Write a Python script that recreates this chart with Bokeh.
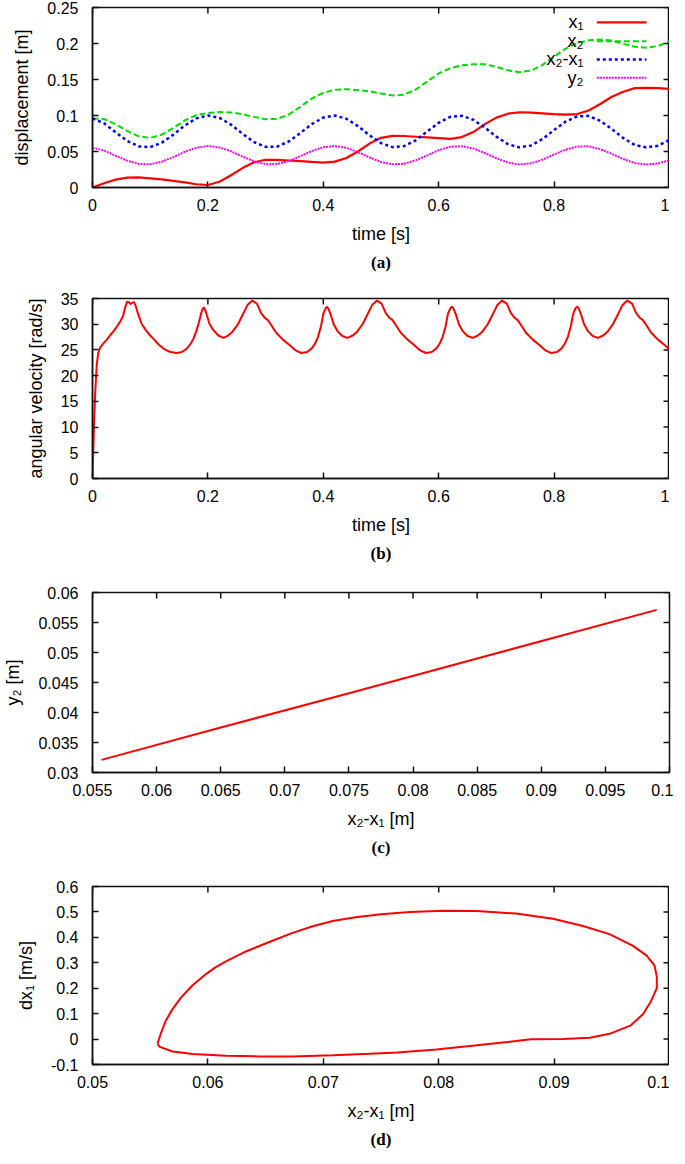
import math
from bokeh.plotting import figure
from bokeh.layouts import column
from bokeh.models import Range1d, FixedTicker, Title, Label
from bokeh.embed import file_html
from bokeh.resources import INLINE

# ---------------- data: panel (a) ----------------
t_a = [0.00, 0.02, 0.04, 0.06, 0.08, 0.10, 0.12, 0.14, 0.16, 0.18,
       0.20, 0.22, 0.24, 0.26, 0.28, 0.30, 0.32, 0.34, 0.36, 0.38,
       0.40, 0.42, 0.44, 0.46, 0.48, 0.50, 0.52, 0.54, 0.56, 0.58,
       0.60, 0.62, 0.64, 0.66, 0.68, 0.70, 0.72, 0.74, 0.76, 0.78,
       0.80, 0.82, 0.84, 0.86, 0.88, 0.90, 0.92, 0.94, 0.96, 0.98, 1.00]
x1 = [0.0, 0.006, 0.011, 0.0138, 0.0140, 0.0128, 0.0112, 0.0093, 0.0072, 0.0045,
      0.0035, 0.008, 0.017, 0.027, 0.035, 0.0385, 0.0385, 0.0375, 0.0365, 0.0355,
      0.0345, 0.036, 0.041, 0.050, 0.061, 0.069, 0.0718, 0.0715, 0.0705, 0.0695,
      0.0685, 0.0675, 0.070, 0.077, 0.088, 0.097, 0.1025, 0.1045, 0.1040, 0.1030,
      0.1020, 0.1013, 0.1020, 0.107, 0.116, 0.126, 0.133, 0.138, 0.1385, 0.138, 0.137]
x2 = [0.096, 0.0951, 0.0878, 0.0786, 0.0711, 0.0689, 0.0734, 0.0827, 0.0933, 0.1005,
      0.1035, 0.1047, 0.1043, 0.1017, 0.0981, 0.0949, 0.0952, 0.1014, 0.1120, 0.1235,
      0.1316, 0.1359, 0.1365, 0.1353, 0.1336, 0.1306, 0.1278, 0.1289, 0.1360, 0.1472,
      0.1584, 0.1656, 0.1697, 0.1711, 0.1712, 0.1676, 0.1627, 0.1602, 0.1623, 0.1703,
      0.1818, 0.1929, 0.2005, 0.2045, 0.2055, 0.2040, 0.1995, 0.1955, 0.1940, 0.1965, 0.2030]
x2_minus_x1 = [0.096, 0.0891, 0.0768, 0.0648, 0.0571, 0.0561, 0.0622, 0.0734, 0.0861, 0.0960,
               0.1000, 0.0967, 0.0873, 0.0747, 0.0631, 0.0564, 0.0567, 0.0639, 0.0755, 0.0880,
               0.0971, 0.0999, 0.0955, 0.0853, 0.0726, 0.0616, 0.0560, 0.0574, 0.0655, 0.0777,
               0.0899, 0.0981, 0.0997, 0.0941, 0.0832, 0.0706, 0.0602, 0.0557, 0.0583, 0.0673,
               0.0798, 0.0916, 0.0989, 0.0993, 0.0926, 0.0812, 0.0686, 0.0590, 0.0556, 0.058, 0.066]
y2 = [0.0553, 0.0513, 0.0442, 0.0373, 0.0328, 0.0322, 0.0358, 0.0422, 0.0496, 0.0553,
      0.0576, 0.0557, 0.0503, 0.0430, 0.0363, 0.0324, 0.0326, 0.0367, 0.0434, 0.0507,
      0.0559, 0.0576, 0.0550, 0.0491, 0.0418, 0.0354, 0.0322, 0.0330, 0.0377, 0.0447,
      0.0518, 0.0565, 0.0574, 0.0542, 0.0479, 0.0406, 0.0346, 0.0320, 0.0335, 0.0387,
      0.0459, 0.0527, 0.0570, 0.0572, 0.0533, 0.0467, 0.0395, 0.0339, 0.0319, 0.0333, 0.0380]
legend_labels = ["x\u2081", "x\u2082", "x\u2082-x\u2081", "y\u2082"]

# ---------------- data: panel (b) ----------------
t_b = [0.000, 0.001, 0.002, 0.003, 0.0045, 0.006, 0.0075, 0.010, 0.013, 0.019,
       0.025, 0.031, 0.037, 0.042, 0.048, 0.053, 0.057, 0.060, 0.063, 0.066,
       0.069, 0.072, 0.075, 0.079, 0.085, 0.092, 0.100, 0.106, 0.115, 0.125,
       0.135, 0.146, 0.155, 0.163, 0.170, 0.175, 0.180, 0.184, 0.188, 0.191,
       0.193, 0.196, 0.198, 0.203, 0.210, 0.218, 0.227,
       0.235, 0.243, 0.252, 0.261, 0.269, 0.277, 0.285, 0.292, 0.299, 0.304,
       0.311, 0.318, 0.330, 0.342, 0.352, 0.362, 0.372, 0.380, 0.386, 0.391,
       0.396, 0.400, 0.404,
       0.406, 0.409, 0.413, 0.418, 0.425, 0.433, 0.442, 0.451, 0.459, 0.468,
       0.477, 0.485, 0.493, 0.501, 0.508, 0.515, 0.520, 0.527, 0.534, 0.546,
       0.558, 0.568, 0.578, 0.588, 0.596, 0.602, 0.607, 0.612, 0.616, 0.620,
       0.623, 0.626, 0.630, 0.635, 0.642, 0.650, 0.659, 0.668, 0.676, 0.685,
       0.694, 0.702, 0.710, 0.718, 0.725, 0.732, 0.737, 0.744, 0.751, 0.763,
       0.775, 0.785, 0.795, 0.805, 0.813, 0.819, 0.824, 0.829, 0.833, 0.837,
       0.840, 0.843, 0.847, 0.852, 0.859, 0.867, 0.876, 0.885, 0.893, 0.902,
       0.911, 0.919, 0.927, 0.935, 0.942, 0.949, 0.954, 0.961, 0.968, 0.980,
       0.992, 1.000]
omega = [0.0, 4.0, 8.0, 12.0, 16.0, 19.5, 22.3, 24.4, 25.4, 26.3,
         27.0, 27.9, 28.7, 29.5, 30.5, 31.6, 33.4, 34.4, 34.3, 33.9,
         34.2, 34.3, 33.5, 32.0, 30.1, 28.9, 27.8, 27.1, 26.0, 25.1,
         24.6, 24.4, 24.6, 25.2, 26.2, 27.2, 28.7, 30.2, 32.0, 33.0,
         33.3, 32.6, 31.8, 30.0, 28.8, 27.8, 27.35,
         27.8, 28.6, 30.0, 32.0, 33.8, 34.6, 34.0, 32.2, 31.2, 30.8,
         29.6, 28.4, 27.0, 25.9, 24.9, 24.4, 24.6, 25.3, 26.3, 27.6,
         29.6, 32.0, 33.1,
         33.4, 33.0, 31.8, 30.0, 28.6, 27.7, 27.35, 27.8, 28.6, 30.0,
         32.0, 33.8, 34.6, 34.0, 32.2, 31.2, 30.8, 29.6, 28.4, 27.0,
         25.9, 24.9, 24.4, 24.6, 25.3, 26.3, 27.6, 29.6, 32.0, 33.1,
         33.4, 33.0, 31.8, 30.0, 28.6, 27.7, 27.35, 27.8, 28.6, 30.0,
         32.0, 33.8, 34.6, 34.0, 32.2, 31.2, 30.8, 29.6, 28.4, 27.0,
         25.9, 24.9, 24.4, 24.6, 25.3, 26.3, 27.6, 29.6, 32.0, 33.1,
         33.4, 33.0, 31.8, 30.0, 28.6, 27.7, 27.35, 27.8, 28.6, 30.0,
         32.0, 33.8, 34.6, 34.0, 32.2, 31.2, 30.8, 29.6, 28.4, 27.0,
         25.9, 25.1]

# ---------------- data: panel (c) ----------------
c_x2_minus_x1 = [0.0557, 0.0650, 0.0750, 0.0850, 0.0990]
c_y2 = [0.0321, 0.0375, 0.0432, 0.0490, 0.0571]

# ---------------- data: panel (d) ----------------
d_x2_minus_x1 = [0.05564, 0.05592, 0.05636, 0.05694, 0.05766, 0.05867, 0.05983, 0.06065,
                 0.06156, 0.06329, 0.06532, 0.06734, 0.06908, 0.07081, 0.0728, 0.0750,
                 0.0775, 0.0804, 0.0833, 0.0867, 0.0899, 0.0925, 0.0948, 0.0968,
                 0.0980, 0.0987, 0.0989, 0.0989, 0.0984, 0.0977, 0.0966, 0.0948,
                 0.0931, 0.0908, 0.0880, 0.0867, 0.0833, 0.0798, 0.0764, 0.0740,
                 0.07081, 0.06734, 0.06445, 0.06156, 0.05867, 0.05694, 0.05578, 0.05564]
d_dx1 = [-0.0167, 0.0219, 0.0733, 0.118, 0.163, 0.2115, 0.2556, 0.2818,
         0.3059, 0.3445, 0.3817, 0.4177, 0.4434, 0.464, 0.479, 0.491,
         0.500, 0.505, 0.504, 0.4936, 0.473, 0.4447, 0.4126, 0.3676,
         0.329, 0.290, 0.2455, 0.2005, 0.149, 0.0977, 0.0527, 0.0206,
         0.0051, 0.0, -0.001, -0.0077, -0.0244, -0.0411, -0.0527, -0.058,
         -0.0636, -0.0681, -0.0681, -0.0656, -0.0591, -0.0488, -0.0296, -0.0167]

# ---------------- ticks ----------------
ticks_time = [0, 0.2, 0.4, 0.6, 0.8, 1]
labels_time = ["0", "0.2", "0.4", "0.6", "0.8", "1"]
ticks_disp = [0, 0.05, 0.1, 0.15, 0.2, 0.25]
labels_disp = ["0", "0.05", "0.1", "0.15", "0.2", "0.25"]
ticks_omega = [0, 5, 10, 15, 20, 25, 30, 35]
labels_omega = ["0", "5", "10", "15", "20", "25", "30", "35"]
ticks_c_x = [0.055, 0.06, 0.065, 0.07, 0.075, 0.08, 0.085, 0.09, 0.095, 0.1]
labels_c_x = ["0.055", "0.06", "0.065", "0.07", "0.075", "0.08", "0.085", "0.09", "0.095", "0.1"]
ticks_c_y = [0.03, 0.035, 0.04, 0.045, 0.05, 0.055, 0.06]
labels_c_y = ["0.03", "0.035", "0.04", "0.045", "0.05", "0.055", "0.06"]
ticks_d_x = [0.05, 0.06, 0.07, 0.08, 0.09, 0.1]
labels_d_x = ["0.05", "0.06", "0.07", "0.08", "0.09", "0.1"]
ticks_d_y = [-0.1, 0, 0.1, 0.2, 0.3, 0.4, 0.5, 0.6]
labels_d_y = ["-0.1", "0", "0.1", "0.2", "0.3", "0.4", "0.5", "0.6"]

FONT = "Liberation Sans"
SERIF = "Liberation Serif"
INK = "#111111"


def make_fig(frame_h, xr, yr, xt, xl, yt, yl, xlabel, ylabel, caption, bottom):
    p = figure(frame_width=577, frame_height=frame_h,
               x_range=Range1d(*xr), y_range=Range1d(*yr),
               output_backend="svg", toolbar_location=None, title=None,
               min_border_left=88, min_border_right=4, min_border_top=7,
               min_border_bottom=bottom)
    p.grid.visible = False
    p.background_fill_color = "white"
    p.border_fill_color = "white"
    p.outline_line_color = INK
    p.outline_line_width = 1.5
    for ax, ticks, labels, lab in ((p.xaxis[0], xt, xl, xlabel), (p.yaxis[0], yt, yl, ylabel)):
        ax.ticker = FixedTicker(ticks=ticks)
        ax.major_label_overrides = {float(k): v for k, v in zip(ticks, labels)}
        ax.major_tick_in = 6
        ax.major_tick_out = 0
        ax.minor_tick_in = 0
        ax.minor_tick_out = 0
        ax.major_tick_line_color = INK
        ax.major_tick_line_width = 1.5
        ax.axis_line_color = INK
        ax.axis_line_width = 1.5
        ax.major_label_text_font = FONT
        ax.major_label_text_font_size = "16px"
        ax.major_label_text_color = "black"
        ax.axis_label = lab
        ax.axis_label_text_font = FONT
        ax.axis_label_text_font_size = "18px"
        ax.axis_label_text_font_style = "normal"
        ax.axis_label_text_color = "black"
    p.xaxis[0].major_label_standoff = 11
    p.xaxis[0].axis_label_standoff = 10
    p.yaxis[0].major_label_standoff = 14
    p.yaxis[0].axis_label_standoff = 12
    # mirrored inward ticks on the right and top edges of the box (6 px long)
    p.ray(x=[xr[1]] * len(yt), y=yt, length=6, length_units="screen", angle=math.pi,
          line_color=INK, line_width=1.5)
    p.ray(x=xt, y=[yr[1]] * len(xt), length=6, length_units="screen", angle=-math.pi / 2,
          line_color=INK, line_width=1.5)
    p.add_layout(Title(text=caption, align="center", text_font=SERIF,
                       text_font_style="bold", text_font_size="17px",
                       text_color="black", standoff=8), "below")
    return p


# (a)
pa = make_fig(180, (0, 1), (0, 0.25), ticks_time, labels_time, ticks_disp, labels_disp,
              "time [s]", "displacement [m]", "(a)", 104)
pa.line(t_a, x1, line_color="#ff0000", line_width=2.2)
pa.line(t_a, x2, line_color="#00dd00", line_width=2, line_dash="6 3")
pa.line(t_a, x2_minus_x1, line_color="#0000ff", line_width=2.5, line_dash="3 3")
pa.line(t_a, y2, line_color="#ff00ff", line_width=2, line_dash="2 1")

legend_rows = [0.2293, 0.2031, 0.1778, 0.1526]
legend_styles = [("#ff0000", None, 2.2), ("#00dd00", "6 3", 2), ("#0000ff", "3 3", 2.5),
                 ("#ff00ff", "2 1", 2)]
for lab, yrow, (col, dash, lw) in zip(legend_labels, legend_rows, legend_styles):
    pa.add_layout(Label(x=0.851, y=yrow, text=lab, text_align="right", text_baseline="middle",
                        text_font=FONT, text_font_size="18px", text_color="black"))
    kw = dict(line_color=col, line_width=lw)
    if dash:
        kw["line_dash"] = dash
    pa.line([0.874, 0.96], [yrow, yrow], **kw)

# (b)
pb = make_fig(180, (0, 1), (0, 35), ticks_time, labels_time, ticks_omega, labels_omega,
              "time [s]", "angular velocity [rad/s]", "(b)", 107)
pb.line(t_b, omega, line_color="#ff0000", line_width=2)

# (c)
pc = make_fig(180, (0.055, 0.1), (0.03, 0.06), ticks_c_x, labels_c_x, ticks_c_y, labels_c_y,
              "x\u2082-x\u2081 [m]", "y\u2082 [m]", "(c)", 107)
pc.line(c_x2_minus_x1, c_y2, line_color="#ff0000", line_width=2)

# (d)
pd_ = make_fig(178, (0.05, 0.1), (-0.1, 0.6), ticks_d_x, labels_d_x, ticks_d_y, labels_d_y,
               "x\u2082-x\u2081 [m]", "dx\u2081 [m/s]", "(d)", 84)
pd_.line(d_x2_minus_x1, d_dx1, line_color="#ff0000", line_width=2)

layout = column(pa, pb, pc, pd_, spacing=0)
open("out.html", "w").write(file_html(layout, INLINE))
